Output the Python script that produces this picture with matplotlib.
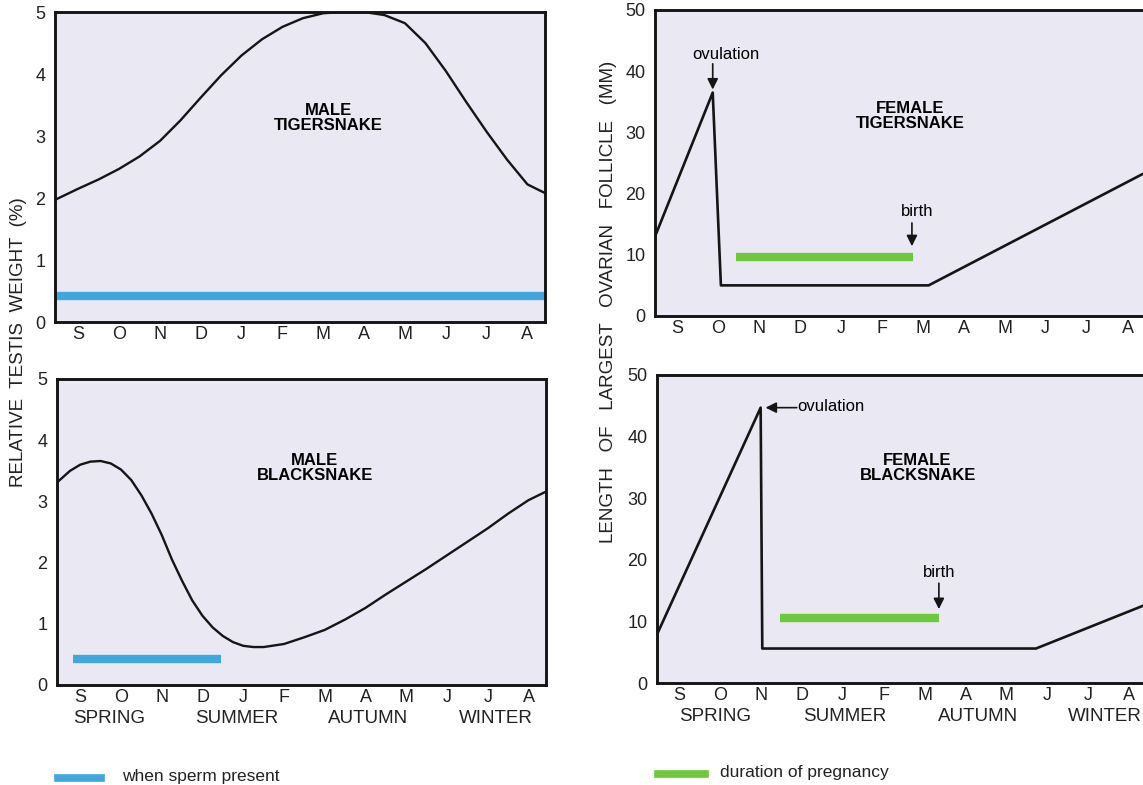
import matplotlib.pyplot as plt

plt.rcParams['font.family'] = ['Liberation Sans', 'DejaVu Sans']

# months, starting in September (x = 0 is S)
months = ['S', 'O', 'N', 'D', 'J', 'F', 'M', 'A', 'M', 'J', 'J', 'A']
seasons = ['SPRING', 'SUMMER', 'AUTUMN', 'WINTER']

# male tigersnake, relative testis weight (%)
tiger_m_x = [-0.57, 0.0, 0.5, 1.0, 1.5, 2.0, 2.5, 3.0, 3.5, 4.0, 4.5, 5.0, 5.5, 6.0,
             6.5, 7.0, 7.5, 8.0, 8.5, 9.0, 9.5, 10.0, 10.5, 11.0, 11.43]
tiger_m_y = [1.97, 2.15, 2.3, 2.47, 2.67, 2.92, 3.25, 3.62, 3.98, 4.3, 4.56, 4.76, 4.9, 4.98,
             5.0, 5.0, 4.95, 4.82, 4.5, 4.05, 3.55, 3.07, 2.62, 2.22, 2.08]
tiger_sperm = [-0.57, 11.43, 0.42]

# male blacksnake
black_m_x = [-0.57, -0.25, 0.0, 0.25, 0.5, 0.75, 1.0, 1.25, 1.5, 1.75, 2.0, 2.25, 2.5, 2.75,
             3.0, 3.25, 3.5, 3.75, 4.0, 4.25, 4.5, 5.0, 5.5, 6.0, 6.5, 7.0, 7.5, 8.0,
             8.5, 9.0, 9.5, 10.0, 10.5, 11.0, 11.43]
black_m_y = [3.31, 3.5, 3.6, 3.65, 3.66, 3.62, 3.52, 3.35, 3.1, 2.8, 2.45, 2.05, 1.7, 1.38,
             1.13, 0.94, 0.8, 0.7, 0.64, 0.62, 0.62, 0.67, 0.78, 0.9, 1.07, 1.26, 1.48, 1.69,
             1.9, 2.12, 2.34, 2.56, 2.8, 3.02, 3.16]
black_sperm = [-0.17, 3.45, 0.42]

# female tigersnake, largest ovarian follicle (mm)
tiger_f_x = [-0.55, 0.86, 1.06, 6.14, 11.43]
tiger_f_y = [13, 36.5, 5, 5, 23.4]
tiger_preg = [1.44, 5.75, 9.7]

# female blacksnake
black_f_x = [-0.55, 2.0, 2.04, 8.72, 11.43]
black_f_y = [7.6, 44.7, 5.6, 5.6, 12.8]
black_preg = [2.47, 6.35, 10.6]

bg = '#e9e8f3'
blue = '#3fa7dd'
green = '#6fc83c'
ink = '#151515'

fig = plt.figure(figsize=(11.43, 7.85), dpi=100)
fig.patch.set_facecolor('white')

def setup(ax, ymax, ystep):
    ax.set_facecolor(bg)
    ax.set_xlim(-0.57, 11.43)
    ax.set_ylim(0, ymax)
    ax.set_xticks(range(12))
    ax.set_xticklabels(months, fontsize=13)
    ax.set_yticks(range(0, ymax + 1, ystep))
    ax.tick_params(length=0, labelsize=13, colors='#222222')
    ax.tick_params(axis='x', pad=3)
    ax.tick_params(axis='y', pad=7)
    for s in ax.spines.values():
        s.set_linewidth(2.1)
        s.set_color(ink)

def add_seasons(ax, xs):
    for s, x in zip(seasons, xs):
        ax.text(x, -0.11, s, transform=ax.get_xaxis_transform(), ha='center', va='center',
                fontsize=13.5, color='#222222')

def arrow(ax, x0, y0, x1, y1):
    ax.annotate('', xy=(x1, y1), xytext=(x0, y0),
                arrowprops=dict(arrowstyle='-|>', color=ink, lw=1.2, shrinkA=0, shrinkB=0,
                                mutation_scale=16))

# top left
ax1 = fig.add_axes([0.0481, 0.5898, 0.4287, 0.3949])
setup(ax1, 5, 1)
ax1.plot(tiger_m_x, tiger_m_y, color=ink, lw=1.7)
ax1.plot(tiger_sperm[:2], [tiger_sperm[2]] * 2, color=blue, lw=6, solid_capstyle='butt')
ax1.text(6.12, 3.29, 'MALE\nTIGERSNAKE', ha='center', va='center', fontsize=12,
         fontweight='bold', linespacing=1.0)

# bottom left
ax2 = fig.add_axes([0.0499, 0.1274, 0.4278, 0.3898])
setup(ax2, 5, 1)
ax2.plot(black_m_x, black_m_y, color=ink, lw=1.7)
ax2.plot(black_sperm[:2], [black_sperm[2]] * 2, color=blue, lw=6, solid_capstyle='butt')
ax2.text(5.76, 3.55, 'MALE\nBLACKSNAKE', ha='center', va='center', fontsize=12,
         fontweight='bold', linespacing=1.0)
add_seasons(ax2, [0.7, 3.85, 7.05, 10.2])

# top right
ax3 = fig.add_axes([0.5731, 0.5975, 0.4287, 0.3898])
setup(ax3, 50, 10)
ax3.set_xlim(-0.55, 11.43)
ax3.plot(tiger_f_x, tiger_f_y, color=ink, lw=1.9)
ax3.plot(tiger_preg[:2], [tiger_preg[2]] * 2, color=green, lw=6, solid_capstyle='butt')
ax3.text(5.68, 32.6, 'FEMALE\nTIGERSNAKE', ha='center', va='center', fontsize=12,
         fontweight='bold', linespacing=1.0)
ax3.text(1.18, 42.8, 'ovulation', ha='center', va='center', fontsize=12)
arrow(ax3, 0.86, 41.2, 0.86, 37.0)
ax3.text(5.85, 17.0, 'birth', ha='center', va='center', fontsize=12)
arrow(ax3, 5.73, 15.2, 5.73, 11.4)

# bottom right
ax4 = fig.add_axes([0.5748, 0.1299, 0.4287, 0.3924])
setup(ax4, 50, 10)
ax4.set_xlim(-0.53, 11.43)
ax4.plot(black_f_x, black_f_y, color=ink, lw=1.9)
ax4.plot(black_preg[:2], [black_preg[2]] * 2, color=green, lw=6, solid_capstyle='butt')
ax4.text(5.83, 34.9, 'FEMALE\nBLACKSNAKE', ha='center', va='center', fontsize=12,
         fontweight='bold', linespacing=1.0)
ax4.text(2.9, 44.9, 'ovulation', ha='left', va='center', fontsize=12)
arrow(ax4, 2.88, 44.7, 2.12, 44.7)
ax4.text(6.35, 18.0, 'birth', ha='center', va='center', fontsize=12)
arrow(ax4, 6.35, 16.2, 6.35, 12.0)
add_seasons(ax4, [0.9, 4.05, 7.3, 10.4])

# shared axis titles
fig.text(0.016, 0.564, 'RELATIVE  TESTIS  WEIGHT  (%)', rotation=90, ha='center',
         va='center', fontsize=13.5, color='#222222')
fig.text(0.532, 0.616, 'LENGTH   OF   LARGEST   OVARIAN   FOLLICLE   (MM)', rotation=90,
         ha='center', va='center', fontsize=13.5, color='#222222')

# legend keys
fig.add_artist(plt.Line2D([0.051, 0.088], [0.0085, 0.0085], transform=fig.transFigure,
                          color=blue, lw=5.5))
fig.text(0.107, 0.011, 'when sperm present', ha='left', va='center', fontsize=12.5,
         color='#222222')
fig.add_artist(plt.Line2D([0.576, 0.617], [0.0145, 0.0145], transform=fig.transFigure,
                          color=green, lw=5.5))
fig.text(0.630, 0.016, 'duration of pregnancy', ha='left', va='center', fontsize=12.5,
         color='#222222')

fig.savefig('out.png', dpi=100)
